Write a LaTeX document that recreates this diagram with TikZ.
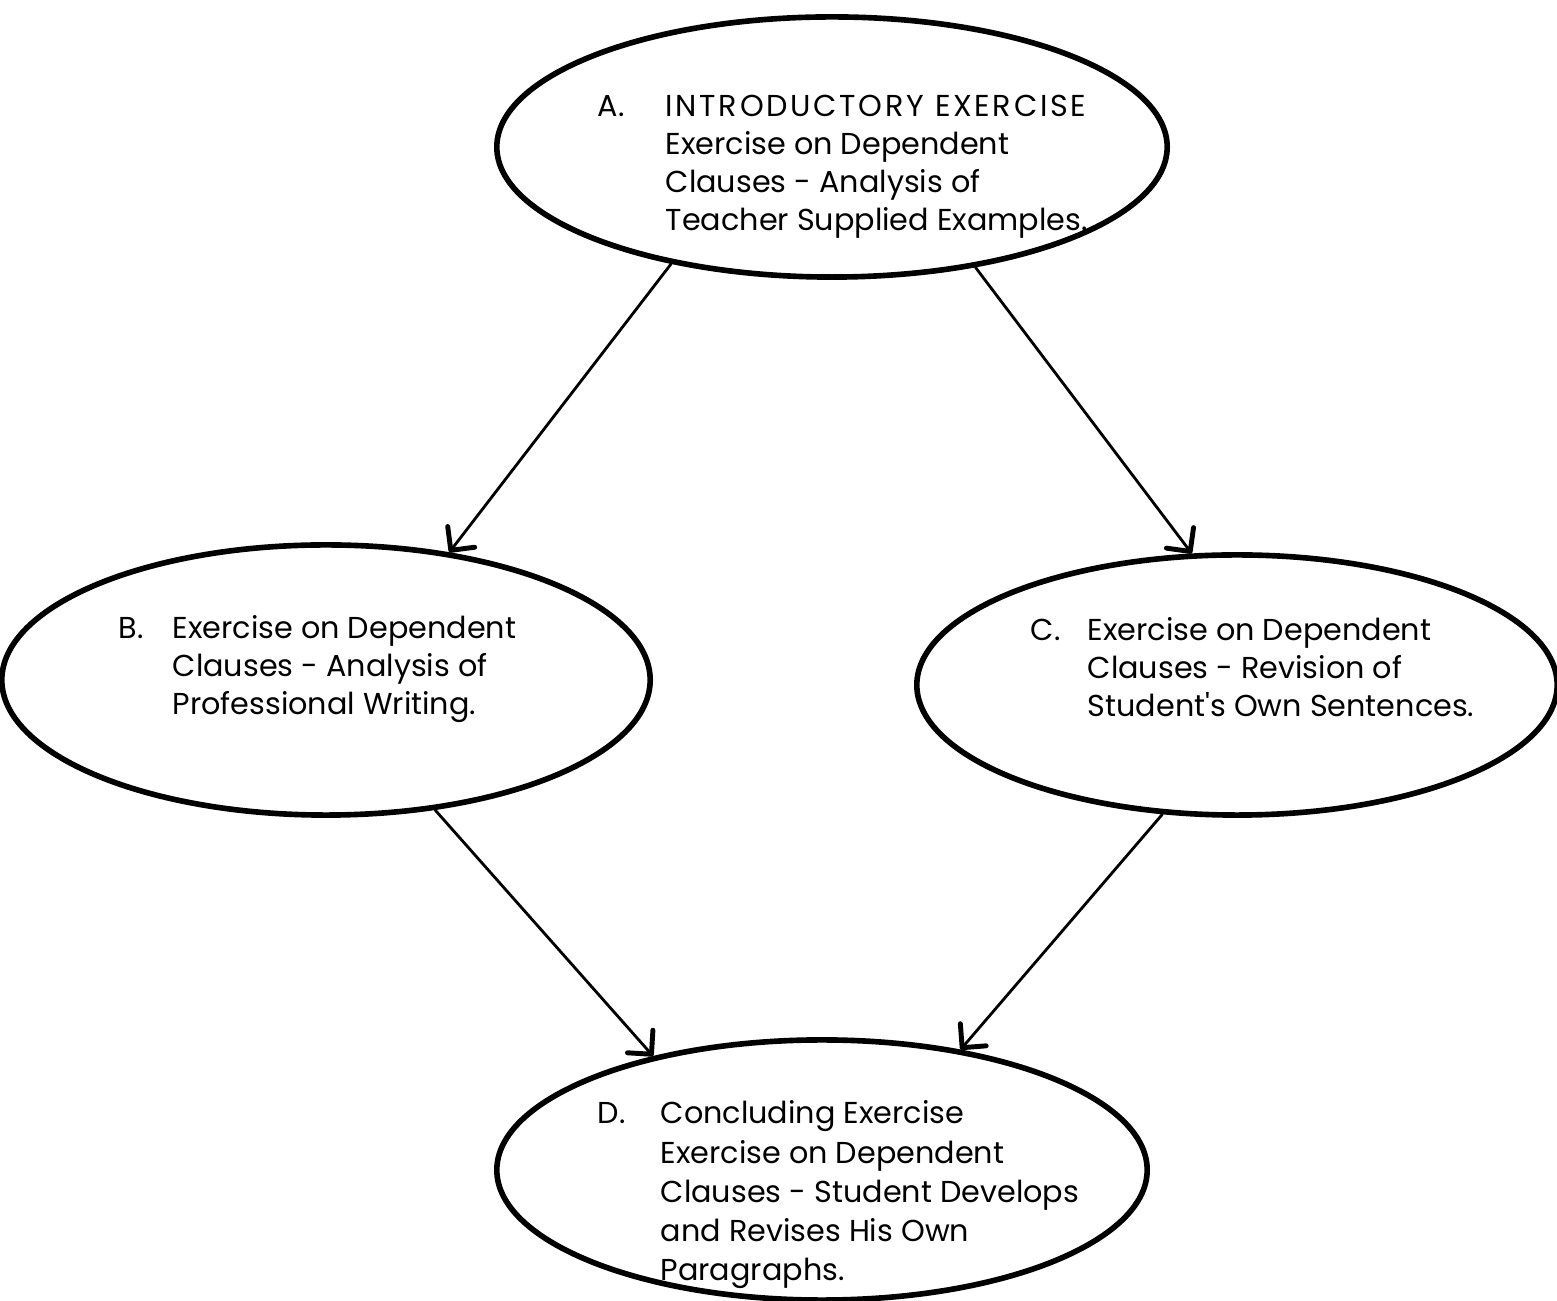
\documentclass[tikz,border=0pt]{standalone}
\usepackage{fontspec}
\setmainfont{Poppins}
\usetikzlibrary{shapes.geometric,arrows.meta}

\tikzset{
  phase/.style={ellipse, draw, line width=1.6pt, inner sep=0pt},
  flow/.style={line width=0.8pt, line cap=round,
    -{Straight Barb[length=0.17cm, width=0.34cm, line width=1.4pt, round]}},
  caption/.style={anchor=base west, inner sep=0pt,
    font=\fontsize{8.6}{10.8}\selectfont}
}
\newcommand\widecaps[1]{{\addfontfeature{LetterSpace=9}#1}}

\begin{document}
\begin{tikzpicture}[x=0.01cm, y=-0.01cm]
  \useasboundingbox (0,0) rectangle (1557,1301);

  % the four exercise stages
  \node[phase, minimum width=6.70cm, minimum height=2.60cm] (A) at (832,147) {};
  \node[phase, minimum width=6.48cm, minimum height=2.70cm] (B) at (326,680) {};
  \node[phase, minimum width=6.40cm, minimum height=2.60cm] (C) at (1237,685) {};
  \node[phase, minimum width=6.50cm, minimum height=2.60cm] (D) at (822,1170) {};

  % stage texts
  \node[caption] (tA) at (597,117) {\begin{tabular}[t]{@{}p{0.68cm}@{}l@{}}
    A. & \widecaps{INTRODUCTORY EXERCISE}\\
       & Exercise on Dependent\\
       & Clauses - Analysis of\\
       & Teacher Supplied Examples.
  \end{tabular}};
  \node[caption] (tB) at (118,639) {\begin{tabular}[t]{@{}p{0.54cm}@{}l@{}}
    B. & Exercise on Dependent\\
       & Clauses - Analysis of\\
       & Professional Writing.
  \end{tabular}};
  \node[caption] (tC) at (1030,641) {\begin{tabular}[t]{@{}p{0.57cm}@{}l@{}}
    C. & Exercise on Dependent\\
       & Clauses - Revision of\\
       & Student\textquotesingle s Own Sentences.
  \end{tabular}};
  \node[caption] (tD) at (597,1124) {\renewcommand\arraystretch{1.03}%
  \begin{tabular}[t]{@{}p{0.63cm}@{}l@{}}
    D. & Concluding Exercise\\
       & Exercise on Dependent\\
       & Clauses - Student Develops\\
       & and Revises His Own\\
       & Paragraphs.
  \end{tabular}};

  % sequence of exercises
  \draw[flow] (A.216.7) -- (B.46.7);
  \draw[flow] (A.-40) -- (C.109);
  \draw[flow] (B.-50.5) -- (D.146);
  \draw[flow] (C.240.4) -- (D.41.8);
\end{tikzpicture}
\end{document}
